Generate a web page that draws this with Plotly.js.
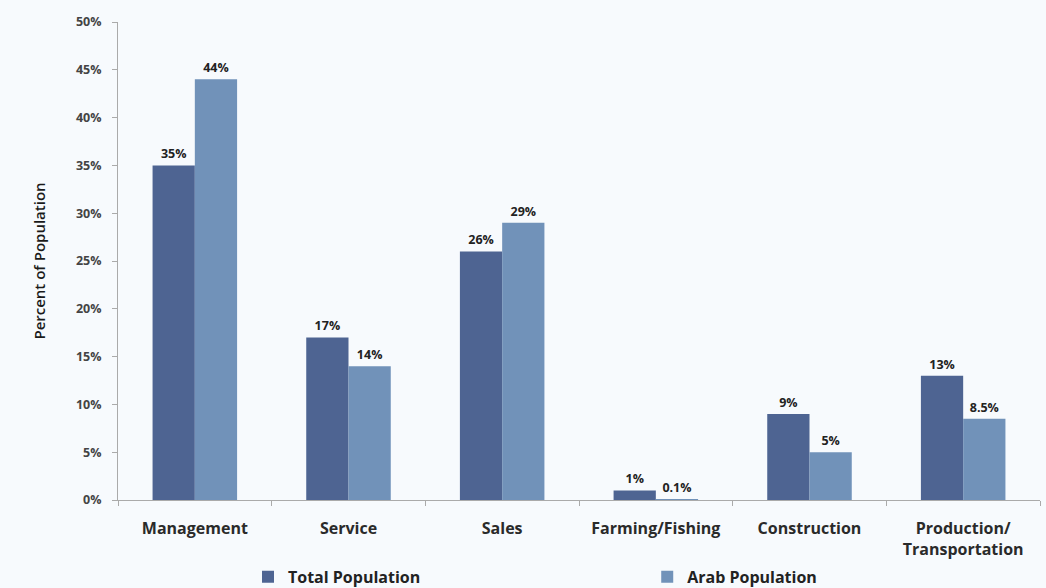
<!DOCTYPE html>
<html>
<head>
<meta charset="utf-8">
<script src="https://cdn.plot.ly/plotly-3.0.1.min.js"></script>
<style>html,body{margin:0;padding:0;background:#f7fafd;}#chart{width:1046px;height:588px;}</style>
</head>
<body>
<div id="chart"></div>
<script>
const categories = ["Management", "Service", "Sales", "Farming/Fishing", "Construction", "Production/<br>Transportation"];
const totalPopulation = [35, 17, 26, 1, 9, 13];
const arabPopulation = [44, 14, 29, 0.1, 5, 8.5];
const seriesNames = ["Total Population", "Arab Population"];

const FONT = "Open Sans, Liberation Sans, sans-serif";
const labelFont = {family: FONT, size: 12.5, color: "#222", weight: 700};

const traces = [
  {type: "bar", name: seriesNames[0], x: categories, y: totalPopulation,
   marker: {color: "#4e6492"}, text: totalPopulation.map(v => v + "%"),
   textposition: "outside", textfont: labelFont, cliponaxis: false, legend: "legend"},
  {type: "bar", name: seriesNames[1], x: categories, y: arabPopulation,
   marker: {color: "#7192b9"}, text: arabPopulation.map(v => v + "%"),
   textposition: "outside", textfont: labelFont, cliponaxis: false, legend: "legend2"}
];

const legendBase = {
  orientation: "h", xanchor: "left", y: -0.125, yanchor: "top",
  bgcolor: "rgba(0,0,0,0)", font: {family: FONT, size: 16, color: "#222", weight: 700},
  itemwidth: 30
};

const layout = {
  width: 1046, height: 588,
  paper_bgcolor: "#f7fafd", plot_bgcolor: "#f7fafd",
  margin: {l: 118, r: 6, t: 22, b: 88, autoexpand: false},
  barmode: "group", bargap: 0.45, bargroupgap: 0,
  font: {family: FONT, color: "#222"},
  xaxis: {
    type: "category", tickson: "boundaries", ticks: "outside", ticklen: 5,
    tickcolor: "#aaa", showline: true, linecolor: "#aaa", linewidth: 1,
    showgrid: false, tickangle: 0, ticklabelstandoff: 14,
    tickfont: {size: 16, color: "#2a2a2a", weight: 700, family: FONT}
  },
  yaxis: {
    range: [0, 50], dtick: 5, ticksuffix: "%", ticks: "outside", ticklen: 5,
    tickcolor: "#aaa", showline: true, linecolor: "#aaa", linewidth: 1,
    showgrid: false, zeroline: false, ticklabelstandoff: 8,
    tickfont: {size: 12.5, color: "#444", weight: 700},
    title: {text: "Percent of Population", font: {size: 15, color: "#1a1a1a", weight: 600}, standoff: 26}
  },
  showlegend: true,
  legend: Object.assign({}, legendBase, {x: 0.141}),
  legend2: Object.assign({}, legendBase, {x: 0.574})
};

Plotly.newPlot("chart", traces, layout, {displayModeBar: false, staticPlot: true});
</script>
</body>
</html>
